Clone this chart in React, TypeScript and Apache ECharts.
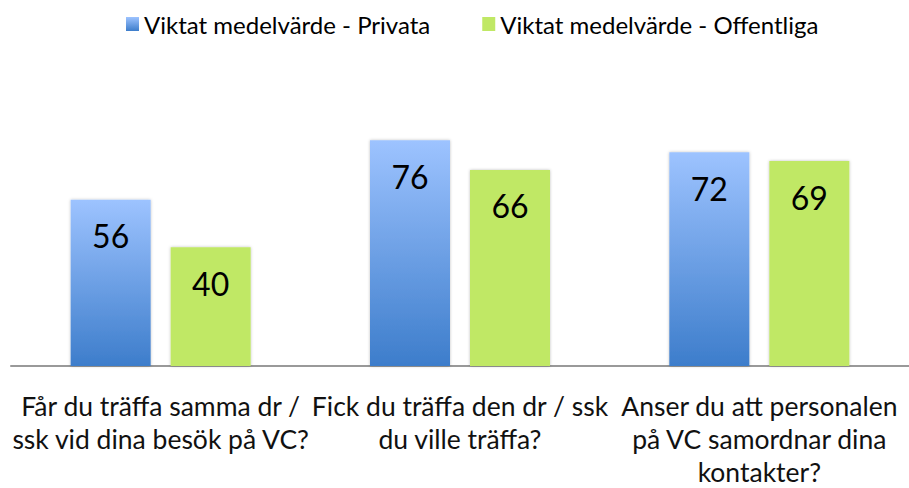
import React, { useEffect, useRef } from "react";
import * as echarts from "echarts";

const categories = [
  "Får du träffa samma dr /\nssk vid dina besök på VC?",
  "Fick du träffa den dr / ssk\ndu ville träffa?",
  "Anser du att personalen\npå VC samordnar dina\nkontakter?",
];
const seriesNames = ["Viktat medelvärde - Privata", "Viktat medelvärde - Offentliga"];
const privata = [56, 76, 72];
const offentliga = [40, 66, 69];

const FONT = "Lato, 'Noto Sans', sans-serif";

export default function App() {
  const ref = useRef<HTMLDivElement>(null);
  useEffect(() => {
    if (!ref.current) return;
    const chart = echarts.init(ref.current, undefined, { renderer: "svg" });
    const blue = new echarts.graphic.LinearGradient(0, 0, 0, 1, [
      { offset: 0, color: "#9dc3ff" },
      { offset: 1, color: "#3d7dcb" },
    ]);
    const label = {
      show: true,
      position: "insideTop" as const,
      distance: 20,
      fontSize: 32,
      lineHeight: 32,
      fontFamily: FONT,
      color: "#000",
    };
    chart.setOption({
      animation: false,
      backgroundColor: "#fff",
      legend: {
        left: 121,
        top: 7,
        itemWidth: 13,
        itemHeight: 14,
        itemGap: 52,
        icon: "rect",
        textStyle: { fontSize: 24, fontFamily: FONT, color: "#000" },
        data: seriesNames,
      },
      grid: { left: 11, right: -8, top: 69, bottom: 112, containLabel: false },
      xAxis: {
        type: "category",
        data: categories,
        axisLine: { lineStyle: { color: "#999", width: 2 } },
        axisTick: { show: false },
        axisLabel: {
          interval: 0,
          margin: 23,
          fontSize: 26.5,
          lineHeight: 33,
          fontFamily: FONT,
          color: "#111",
        },
      },
      yAxis: {
        type: "value",
        min: 0,
        max: 100,
        show: false,
        splitLine: { show: false },
      },
      series: [
        {
          name: seriesNames[0],
          type: "bar",
          data: privata,
          barWidth: 80,
          barGap: "25%",
          itemStyle: { color: blue, shadowBlur: 3, shadowColor: "rgba(0,0,0,0.25)" },
          label,
        },
        {
          name: seriesNames[1],
          type: "bar",
          data: offentliga,
          barWidth: 80,
          itemStyle: { color: "#c0e865", shadowBlur: 3, shadowColor: "rgba(0,0,0,0.25)" },
          label,
        },
      ],
    });
    return () => chart.dispose();
  }, []);
  return (
    <div
      ref={ref}
      style={{ position: "absolute", left: 0, top: 0, width: 909, height: 488 }}
    />
  );
}
